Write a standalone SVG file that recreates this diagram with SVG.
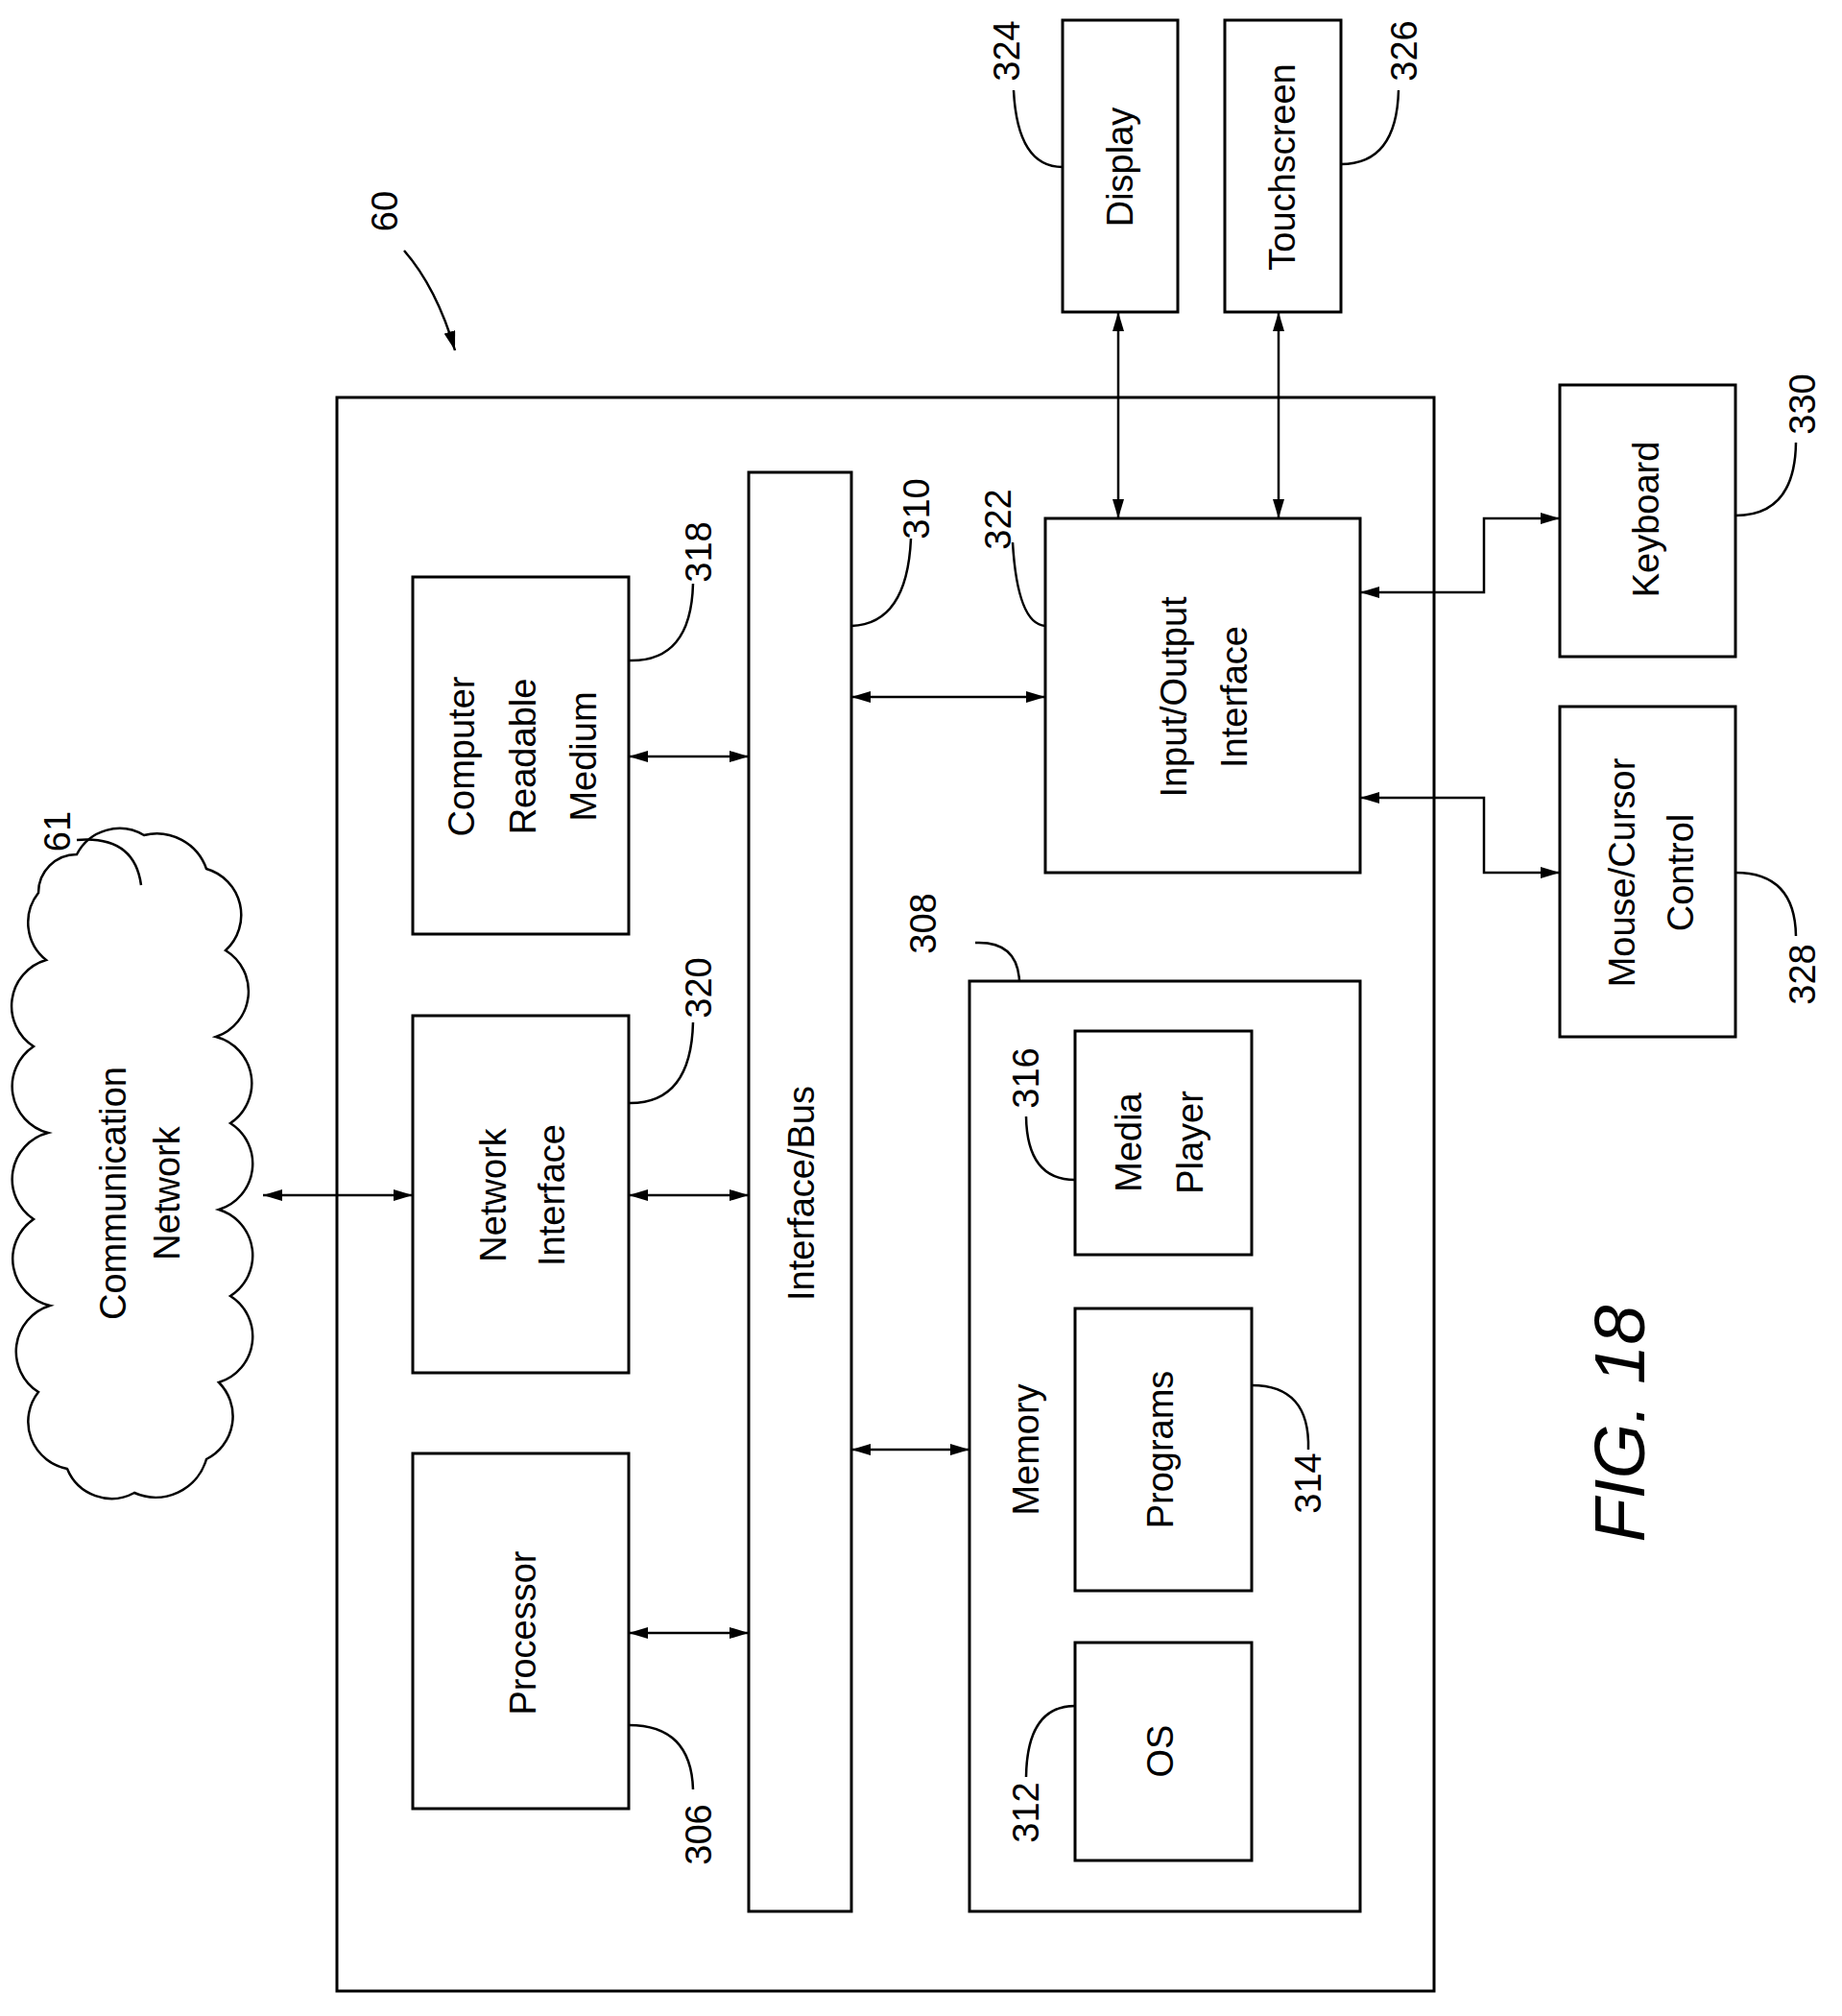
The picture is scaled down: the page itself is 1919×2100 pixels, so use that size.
<svg xmlns="http://www.w3.org/2000/svg" width="1919" height="2100" viewBox="0 0 1919 2100">
<style>
rect{fill:none;stroke:#000;stroke-width:3}
.c line,.c path{fill:none;stroke:#000;stroke-width:2.5}
.l{fill:none;stroke:#000;stroke-width:2.5}
text{font-family:"Liberation Sans",Arial,sans-serif;font-size:38px;text-anchor:middle;dominant-baseline:central;fill:#000}
</style>
<defs><marker id="a" viewBox="0 0 20 12" refX="20" refY="6" markerWidth="20" markerHeight="12" markerUnits="userSpaceOnUse" orient="auto-start-reverse"><path d="M0,0L20,6L0,12z" fill="#000"/></marker></defs>
<rect fill="#fff" width="1919" height="2100" style="stroke:none;fill:#fff"/>
<g id="main"><rect x="351" y="414" width="1143" height="1660"/></g>
<g id="bus"><rect x="780" y="492" width="107" height="1499"/><text transform="translate(835,1243) rotate(-90)">Interface/Bus</text></g>
<g id="crm"><rect x="430" y="601" width="225" height="372"/><text transform="translate(481,788) rotate(-90)">Computer</text><text transform="translate(545,788) rotate(-90)">Readable</text><text transform="translate(608,788) rotate(-90)">Medium</text></g>
<g id="ni"><rect x="430" y="1058" width="225" height="372"/><text transform="translate(514,1245) rotate(-90)">Network</text><text transform="translate(575,1245) rotate(-90)">Interface</text></g>
<g id="proc"><rect x="430" y="1514" width="225" height="370"/><text transform="translate(545,1701) rotate(-90)">Processor</text></g>
<g id="io"><rect x="1089" y="540" width="328" height="369"/><text transform="translate(1223,726) rotate(-90)">Input/Output</text><text transform="translate(1286,726) rotate(-90)">Interface</text></g>
<g id="mem"><rect x="1010" y="1022" width="407" height="969"/><text transform="translate(1069,1510) rotate(-90)">Memory</text></g>
<g id="mp"><rect x="1120" y="1074" width="184" height="233"/><text transform="translate(1176,1190) rotate(-90)">Media</text><text transform="translate(1240,1190) rotate(-90)">Player</text></g>
<g id="prog"><rect x="1120" y="1363" width="184" height="294"/><text transform="translate(1209,1510) rotate(-90)">Programs</text></g>
<g id="os"><rect x="1120" y="1711" width="184" height="227"/><text transform="translate(1209,1824) rotate(-90)">OS</text></g>
<g id="disp"><rect x="1107" y="21" width="120" height="304"/><text transform="translate(1167,174) rotate(-90)">Display</text></g>
<g id="touch"><rect x="1276" y="21" width="121" height="304"/><text transform="translate(1336,174) rotate(-90)">Touchscreen</text></g>
<g id="kb"><rect x="1625" y="401" width="183" height="283"/><text transform="translate(1715,541) rotate(-90)">Keyboard</text></g>
<g id="mouse"><rect x="1625" y="736" width="183" height="344"/><text transform="translate(1690,909) rotate(-90)">Mouse/Cursor</text><text transform="translate(1751,909) rotate(-90)">Control</text></g>
<g id="cloud"><path class="l" d="M80,890 A50,50 0 0 1 150,870 A55,55 0 0 1 215,905 A50,50 0 0 1 235,990 A50,50 0 0 1 225,1080 A50,50 0 0 1 240,1170 A50,50 0 0 1 228,1260 A50,50 0 0 1 240,1350 A50,50 0 0 1 228,1440 A50,50 0 0 1 215,1520 A55,55 0 0 1 140,1555 A50,50 0 0 1 70,1530 A50,50 0 0 1 40,1450 A50,50 0 0 1 52,1360 A50,50 0 0 1 35,1270 A50,50 0 0 1 50,1180 A50,50 0 0 1 35,1090 A50,50 0 0 1 48,1000 A50,50 0 0 1 40,930 A40,40 0 0 1 80,890z"/><text transform="translate(118,1243) rotate(-90)">Communication</text><text transform="translate(174,1243) rotate(-90)">Network</text></g>
<g class="c" id="connectors">
<line x1="655" y1="788" x2="780" y2="788" marker-start="url(#a)" marker-end="url(#a)"/>
<line x1="655" y1="1245" x2="780" y2="1245" marker-start="url(#a)" marker-end="url(#a)"/>
<line x1="655" y1="1701" x2="780" y2="1701" marker-start="url(#a)" marker-end="url(#a)"/>
<line x1="274" y1="1245" x2="430" y2="1245" marker-start="url(#a)" marker-end="url(#a)"/>
<line x1="887" y1="726" x2="1089" y2="726" marker-start="url(#a)" marker-end="url(#a)"/>
<line x1="887" y1="1510" x2="1010" y2="1510" marker-start="url(#a)" marker-end="url(#a)"/>
<line x1="1165" y1="325" x2="1165" y2="540" marker-start="url(#a)" marker-end="url(#a)"/>
<line x1="1332" y1="325" x2="1332" y2="540" marker-start="url(#a)" marker-end="url(#a)"/>
<path d="M1417,617 H1546 V540 H1625" marker-start="url(#a)" marker-end="url(#a)"/>
<path d="M1417,831 H1546 V909 H1625" marker-start="url(#a)" marker-end="url(#a)"/>
<path d="M421,261 Q455,300 474,365" marker-end="url(#a)"/>
<path d="M80,875 Q140,870 147,922"/>
<path d="M722,608 Q720,690 655,688"/>
<path d="M722,1065 Q720,1150 655,1149"/>
<path d="M722,1864 Q720,1797 655,1797"/>
<path d="M949,561 Q945,650 887,652"/>
<path d="M1055,565 Q1060,650 1089,652"/>
<path d="M1016,982 Q1060,980 1062,1022"/>
<path d="M1069,1163 Q1070,1229 1120,1229"/>
<path d="M1363,1510 Q1365,1443 1304,1443"/>
<path d="M1069,1851 Q1070,1777 1120,1777"/>
<path d="M1056,94 Q1060,174 1107,174"/>
<path d="M1457,94 Q1455,171 1397,171"/>
<path d="M1871,461 Q1870,537 1808,537"/>
<path d="M1871,975 Q1870,909 1808,909"/>
</g>
<g id="labels" font-size="34">
<text transform="translate(401,220) rotate(-90)">60</text>
<text transform="translate(60,866) rotate(-90)">61</text>
<text transform="translate(728,575) rotate(-90)">318</text>
<text transform="translate(728,1029) rotate(-90)">320</text>
<text transform="translate(728,1911) rotate(-90)">306</text>
<text transform="translate(955,530) rotate(-90)">310</text>
<text transform="translate(1040,541) rotate(-90)">322</text>
<text transform="translate(962,962) rotate(-90)">308</text>
<text transform="translate(1069,1123) rotate(-90)">316</text>
<text transform="translate(1363,1545) rotate(-90)">314</text>
<text transform="translate(1069,1888) rotate(-90)">312</text>
<text transform="translate(1049,53) rotate(-90)">324</text>
<text transform="translate(1463,53) rotate(-90)">326</text>
<text transform="translate(1878,421) rotate(-90)">330</text>
<text transform="translate(1878,1015) rotate(-90)">328</text>
<text transform="translate(1687,1483) rotate(-90)" style="font-size:74px;font-style:italic">FIG. 18</text>
</g>
</svg>
